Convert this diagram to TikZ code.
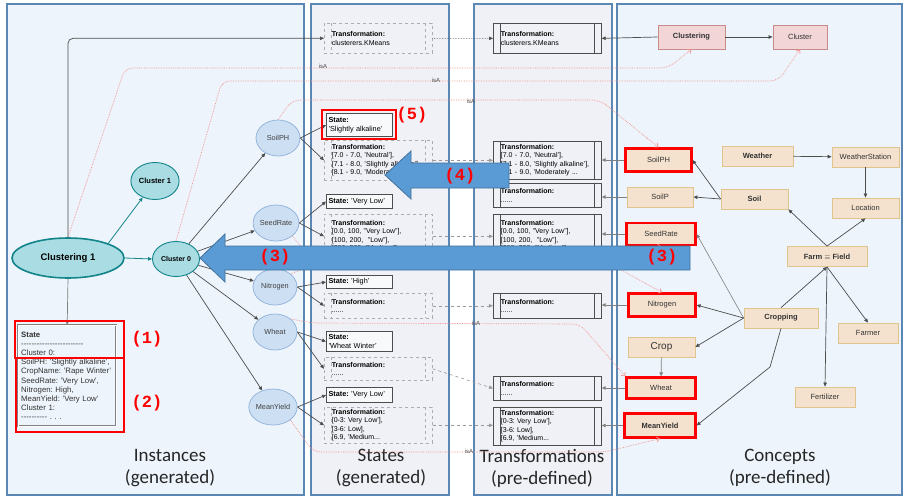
\documentclass[tikz,border=0pt]{standalone}
\usepackage{fontspec}
\setmainfont{Liberation Sans}
\newfontfamily\panelfont{Carlito}
\newfontfamily\tagfont{Liberation Mono}
\usepackage{tikz}
\usetikzlibrary{arrows.meta, shapes.geometric}
\frenchspacing

\definecolor{paneledge}{HTML}{5B87B5}
\definecolor{panelblue}{HTML}{EDF4FB}
\definecolor{panelgrey}{HTML}{F0F1F6}
\definecolor{tealfill}{HTML}{A9DCE3}
\definecolor{tealedge}{HTML}{12858B}
\definecolor{attrfill}{HTML}{CCDFF3}
\definecolor{attredge}{HTML}{8EB1DA}
\definecolor{conceptfill}{HTML}{F4E2CE}
\definecolor{conceptedge}{HTML}{E0C48E}
\definecolor{pinkfill}{HTML}{F2D5D7}
\definecolor{pinkedge}{HTML}{C98A8C}
\definecolor{darkline}{HTML}{4D4D4D}
\definecolor{isared}{HTML}{F2908A}
\definecolor{arrowfill}{HTML}{5B9BD5}
\definecolor{arrowedge}{HTML}{41719C}

\newcommand{\dashrow}[1]{\foreach \k in {1,...,#1}{-}}

\tikzset{
  panel/.style={draw=paneledge, line width=1.3pt},
  panelcaption/.style={font=\panelfont\fontsize{19}{22}\selectfont, align=center, text=black!85},
  inst/.style={ellipse, draw=tealedge, fill=tealfill, line width=0.9pt, inner sep=1pt, font=\bfseries\fontsize{7}{8}\selectfont},
  attr/.style={ellipse, draw=attredge, fill=attrfill, line width=0.7pt, minimum width=44pt, minimum height=36pt, inner sep=0pt, text=black!75},
  statebox/.style={draw=darkline, line width=1pt, fill=white!55!panelgrey, anchor=north west, align=left, text width=62pt, inner xsep=2pt, inner ysep=1pt},
  proc/.style={rectangle, anchor=north west, align=left, text width=93pt, inner xsep=7.5pt, inner ysep=1pt, font=\fontsize{7}{8.5}\selectfont,
    path picture={\draw[#1] ([xshift=7pt]path picture bounding box.north west) -- ([xshift=7pt]path picture bounding box.south west)
      ([xshift=-7pt]path picture bounding box.north east) -- ([xshift=-7pt]path picture bounding box.south east);}},
  tbox/.style={proc={draw=darkline, line width=0.7pt}, draw=darkline, line width=0.7pt},
  sbox/.style={proc={draw=gray!65, dashed, line width=0.6pt}, draw=gray!65, dashed, line width=0.6pt},
  concept/.style={draw=conceptedge, fill=conceptfill, line width=0.8pt, text=black!80, font=\fontsize{7.5}{9}\selectfont},
  hot/.style={concept, draw=red, line width=2.2pt},
  pinkbox/.style={draw=pinkedge, fill=pinkfill, line width=0.8pt, minimum height=24pt, text=black!80, font=\fontsize{7.5}{9}\selectfont},
  link/.style={->, draw=darkline, line width=0.7pt},
  tlink/.style={->, draw=tealedge, line width=0.8pt},
  glink/.style={->, draw=gray, line width=0.6pt},
  dlink/.style={->, draw=gray!80, dashed, line width=0.6pt},
  isa/.style={-{Straight Barb[length=3pt,width=5pt]}, draw=isared, densely dotted, line width=0.7pt, rounded corners=8pt},
  isalabel/.style={font=\fontsize{6}{7}\selectfont, text=black!70, inner sep=1pt},
  redtag/.style={text=red, font=\tagfont\bfseries\fontsize{17}{17}\selectfont},
  hilite/.style={draw=red, line width=2pt},
  bigarrow/.style={fill=arrowfill, draw=arrowedge, line width=0.8pt},
}

\begin{document}
\begin{tikzpicture}[x=1pt, y=-1pt, >={Triangle[length=4pt,width=3.5pt]}, font=\fontsize{7.3}{8.5}\selectfont]
        \useasboundingbox (0,0) rectangle (904,500);
        \fill[white] (0,0) rectangle (904,500);

        % Panels
        \filldraw[panel, fill=panelblue] (7,4) rectangle (304,495);
        \filldraw[panel, fill=panelgrey] (311,4) rectangle (449,495);
        \filldraw[panel, fill=panelgrey] (474,4) rectangle (612,495);
        \filldraw[panel, fill=panelblue] (617,4) rectangle (902,495);

        \node[panelcaption] (capinst) at (170,468) {Instances\\(generated)};
        \node[panelcaption] (capstate) at (381,468) {States\\(generated)};
        \node[panelcaption] (captrans) at (542,468) {Transformations\\(pre-defined)};
        \node[panelcaption] (capconc) at (780,468) {Concepts\\(pre-defined)};

        % Instances
        \node[inst, minimum width=112pt, minimum height=40pt, line width=1.6pt, font=\bfseries\fontsize{9.5}{11}\selectfont] (clust) at (68,258) {Clustering 1};
        \node[inst, minimum width=46pt, minimum height=37pt, font=\bfseries\fontsize{7.5}{9}\selectfont] (cl1) at (155,181) {Cluster 1};
        \node[inst, minimum width=47pt, minimum height=35pt] (cl0) at (176,259) {Cluster 0};

        \node[attr] (aPH) at (278,138) {SoilPH};
        \node[attr] (aSR) at (276,223) {SeedRate};
        \node[attr] (aNI) at (275,287) {Nitrogen};
        \node[attr] (aWH) at (275,332) {Wheat};
        \node[attr] (aMY) at (273,407) {MeanYield};

        \node[draw=gray, double, double distance=1.2pt, anchor=north west, text width=92pt, minimum height=101pt, align=left, inner xsep=3pt, font=\fontsize{7.8}{9.2}\selectfont, text=black!80] (istate) at (18,325)
          {\textbf{State}\\ \dashrow{24}\\ Cluster 0:\\ SoilPH: 'Slightly alkaline',\\ CropName: 'Rape Winter'\\ SeedRate: 'Very Low',\\ Nitrogen: High,\\ MeanYield: 'Very Low'\\ Cluster 1:\\ \dashrow{10} . . .};

        % States
        \node[sbox, minimum height=30pt] (sxKM) at (324,23) {\textbf{Transformation:}\\clusterers.KMeans};
        \node[statebox, minimum height=23pt] (stPH) at (326,113) {\textbf{State:}\\'Slightly alkaline'};
        \node[sbox, minimum height=40pt] (sxPH) at (324,140) {\textbf{Transformation:}\\{}[7.0 - 7.0, 'Neutral'],\\{}[7.1 - 8.0, 'Slightly alkaline'],\\{}[8.1 - 9.0, 'Moderately ...};
        \node[statebox, minimum height=14pt] (stSR) at (326,194) {\textbf{State:} 'Very Low'};
        \node[sbox, minimum height=44pt] (sxSR) at (324,214) {\textbf{Transformation:}\\{}[0.0, 100, "Very Low"],\\{}[100, 200, \ "Low"],\\{}[200, 300, "Medium"],};
        \node[statebox, minimum height=13pt] (stNI) at (326,275) {\textbf{State:} 'High'};
        \node[sbox, minimum height=25pt] (sxNI) at (324,293) {\textbf{Transformation:}\\......};
        \node[statebox, minimum height=20pt] (stWH) at (326,331) {\textbf{State:}\\'Wheat Winter'};
        \node[sbox, minimum height=23pt] (sxWH) at (324,357) {\textbf{Transformation:}\\......};
        \node[statebox, minimum height=15pt] (stMY) at (326,387) {\textbf{State:} 'Very Low'};
        \node[sbox, minimum height=36pt] (sxMY) at (324,407) {\textbf{Transformation:}\\{}[0-3: Very Low'],\\{}[3-6: Low],\\{}[6.9, 'Medium...};

        % Transformations
        \node[tbox, minimum height=30pt] (tKM) at (493,23) {\textbf{Transformation:}\\clusterers.KMeans};
        \node[tbox, minimum height=38pt] (tPH) at (493,141) {\textbf{Transformation:}\\{}[7.0 - 7.0, 'Neutral'],\\{}[7.1 - 8.0, 'Slightly alkaline'],\\{}[8.1 - 9.0, 'Moderately ...};
        \node[tbox, minimum height=24pt] (tP) at (493,183) {\textbf{Transformation:}\\......};
        \node[tbox, minimum height=44pt] (tSR) at (493,214) {\textbf{Transformation:}\\{}[0.0, 100, "Very Low"],\\{}[100, 200, \ "Low"],\\{}[200, 300, "Medium"],};
        \node[tbox, minimum height=25pt] (tNI) at (493,293) {\textbf{Transformation:}\\......};
        \node[tbox, minimum height=24pt] (tWH) at (493,376) {\textbf{Transformation:}\\......};
        \node[tbox, minimum height=38pt] (tMY) at (493,407) {\textbf{Transformation:}\\{}[0-3: Very Low'],\\{}[3-6: Low],\\{}[6.9, 'Medium...};

        % Concepts
        \node[pinkbox, minimum width=67pt, font=\bfseries\fontsize{7.5}{9}\selectfont] (cClus) at (691.5,37) {Clustering};
        \node[pinkbox, minimum width=54pt] (cClu) at (800,37) {Cluster};
        \node[hot, minimum width=66pt, minimum height=23pt] (cPH) at (658.5,160) {SoilPH};
        \node[concept, minimum width=66pt, minimum height=20pt] (cP) at (660,197) {SoilP};
        \node[hot, minimum width=69pt, minimum height=22pt] (cSR) at (661,234) {SeedRate};
        \node[concept, minimum width=71pt, minimum height=20pt, font=\bfseries\fontsize{7.5}{9}\selectfont] (cWe) at (757.5,156) {Weather};
        \node[concept, minimum width=67pt, minimum height=20pt] (cWS) at (865.5,157) {WeatherStation};
        \node[concept, minimum width=67pt, minimum height=20pt, font=\bfseries\fontsize{7.5}{9}\selectfont] (cSo) at (754.5,199) {Soil};
        \node[concept, minimum width=67pt, minimum height=20pt] (cLo) at (865.5,208) {Location};
        \node[concept, minimum width=80pt, minimum height=20pt, font=\bfseries\fontsize{7.5}{9}\selectfont] (cFa) at (827,256.5) {Farm $\equiv$ Field};
        \node[hot, minimum width=67pt, minimum height=23pt] (cNI) at (662,305) {Nitrogen};
        \node[concept, minimum width=74pt, minimum height=20pt, font=\bfseries\fontsize{7.5}{9}\selectfont] (cCr) at (781,318) {Cropping};
        \node[concept, minimum width=60pt, minimum height=20pt] (cFr) at (868,333) {Farmer};
        \node[concept, minimum width=67pt, minimum height=20pt, font=\fontsize{10}{12}\selectfont] (cCo) at (661.5,347) {Crop};
        \node[hot, minimum width=69pt, minimum height=21pt] (cWH) at (661,388) {Wheat};
        \node[hot, minimum width=71pt, minimum height=24pt, font=\bfseries\fontsize{7.5}{9}\selectfont] (cMY) at (660,425.5) {MeanYield};
        \node[concept, minimum width=60pt, minimum height=20pt] (cFe) at (825,397) {Fertilizer};

        % isA links
        \draw[isa] (clust.north) -- (125,68) -- (668,68) -- (cClus.south);
        \node[isalabel] (isa1) at (323,66) {isA};
        \draw[isa] (cl0.north) -- (222,81) -- (778,81) -- (cClu.south);
        \node[isalabel] (isa2) at (436,80) {isA};
        \draw[isa] (aPH.north) -- (292,100) -- (600,100) -- (cPH.north);
        \node[isalabel] (isa3) at (471,101) {isA};
        \draw[isa] (aSR.south east) -- (305,252) -- (612,252) -- (cSR.south);
        \draw[isa] (aNI.north east) -- (312,265) -- (612,265) -- (cNI.north);
        \draw[isa] (aWH.north east) -- (312,323) -- (580,324) -- (cWH.north west);
        \node[isalabel] (isa4) at (476,323) {isA};
        \draw[isa] (aMY.south east) -- (313,452) -- (605,452) -- (cMY.south);
        \node[isalabel] (isa5) at (469,451) {isA};

        % Instance arrows
        \draw[tlink] (clust.20) -- (cl1);
        \draw[tlink] (clust.east) -- (cl0.west);
        \draw[link, draw=gray] (clust.south) -- (istate.north);
        \draw[link, rounded corners=5pt] (clust.north) |- (sxKM.west);
        \foreach \a in {aPH, aSR, aNI, aWH, aMY}
          \draw[link] (cl0) -- (\a);

        \draw[link] (aPH.east) -- (stPH.west);
        \draw[link] (aPH.east) -- (sxPH.west);
        \draw[link] (aSR.east) -- (stSR.west);
        \draw[link] (aSR.east) -- (sxSR.west);
        \draw[link] (aNI.east) -- (stNI.west);
        \draw[link] (aNI.east) -- (sxNI.west);
        \draw[link] (aWH.east) -- (stWH.west);
        \draw[link] (aWH.east) -- (sxWH.west);
        \draw[link] (aMY.east) -- (stMY.west);
        \draw[link] (aMY.east) -- (sxMY.west);

        % States to transformations
        \draw[dlink, draw=darkline, densely dotted] (sxKM.east) -- (tKM.west);
        \draw[dlink] (sxPH.east) -- (sxPH.east -| tPH.west);
        \draw[dlink] (sxSR.east) -- (sxSR.east -| tSR.west);
        \draw[dlink] (sxNI.east) -- (sxNI.east -| tNI.west);
        \draw[dlink] (sxWH.east) -- (tWH.west);
        \draw[dlink] (sxMY.east) -- (sxMY.east -| tMY.west);

        % Concepts to transformations
        \draw[link] (cClus.west) -- (tKM.east);
        \draw[glink] (cPH.west) -- (cPH.west -| tPH.east);
        \draw[glink] (cP.west) -- (cP.west -| tP.east);
        \draw[glink] (cSR.west) -- (cSR.west -| tSR.east);
        \draw[glink] (cNI.west) -- (cNI.west -| tNI.east);
        \draw[glink] (cWH.west) -- (cWH.west -| tWH.east);
        \draw[glink] (cMY.west) -- (cMY.west -| tMY.east);

        % Concept relations
        \draw[link] (cClus) -- (cClu);
        \draw[link] (cWe) -- (cWS);
        \draw[link] (cWS) -- (cLo);
        \draw[link] (cSo.west) -- (cPH.east);
        \draw[link] (cSo.west) -- (cP.east);
        \draw[link] (cFa.north) -- (cSo.south east);
        \draw[link] (cFa.north) -- (cLo.south);
        \draw[link] (cCr.north) -- (cFa.south);
        \draw[link] (cFa.south) -- (cFr.north);
        \draw[link] (cFa.south) -- (cFe.north);
        \draw[glink] (cCr.west) -- (cSR.east);
        \draw[link] (cCr.west) -- (cNI.east);
        \draw[link] (cCr.west) -- (cCo.east);
        \draw[link, draw=gray] (cCo) -- (cWH);
        \draw[link] (cCr.south) -- (770,367) -- (cMY.east);

        % Big arrows
        \filldraw[bigarrow] (200,258) -- (225,234) -- (225,246) -- (690,246) -- (690,270) -- (225,270) -- (225,282) -- cycle;
        \filldraw[bigarrow] (385,175) -- (411,151) -- (411,163) -- (509,163) -- (509,188) -- (411,188) -- (411,199) -- cycle;

        % Highlights
        \draw[hilite] (15,321) rectangle (124,358);
        \draw[hilite] (16,358) rectangle (124,432);
        \draw[hilite] (322,110) rectangle (396,139);

        \node[redtag] (tag1) at (147,339) {(1)};
        \node[redtag] (tag2) at (147,403) {(2)};
        \node[redtag] (tag3a) at (275,257) {(3)};
        \node[redtag] (tag3b) at (662,257) {(3)};
        \node[redtag] (tag4) at (460,176) {(4)};
        \node[redtag] (tag5) at (412,115) {(5)};

    \end{tikzpicture}
\end{document}
